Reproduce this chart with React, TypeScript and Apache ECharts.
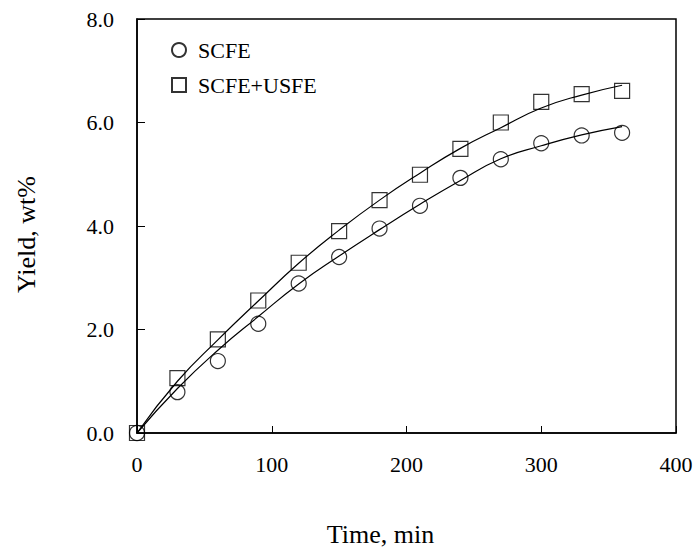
import React, { useEffect, useRef } from "react";
import * as echarts from "echarts";

const timeMin = [0, 30, 60, 90, 120, 150, 180, 210, 240, 270, 300, 330, 360];
const scfeYield = [0, 0.79, 1.39, 2.11, 2.89, 3.4, 3.95, 4.39, 4.93, 5.29, 5.6, 5.75, 5.8];
const usfeYield = [0, 1.06, 1.81, 2.56, 3.29, 3.9, 4.5, 4.99, 5.49, 6.0, 6.4, 6.55, 6.61];
const fitTime = [0, 30, 60, 90, 120, 150, 180, 210, 240, 270, 300, 330, 360];
const scfeFit = [0, 0.86, 1.6, 2.25, 2.88, 3.42, 3.93, 4.42, 4.88, 5.3, 5.55, 5.76, 5.92];
const usfeFit = [0, 1.0, 1.8, 2.55, 3.28, 3.92, 4.5, 5.02, 5.5, 5.9, 6.28, 6.53, 6.72];
const xTicks = [0, 100, 200, 300, 400];
const yTicks = [0, 2, 4, 6, 8];

const FONT = "Liberation Serif";

export default function App() {
  const ref = useRef<HTMLDivElement>(null);
  useEffect(() => {
    if (!ref.current) return;
    const chart = echarts.init(ref.current, undefined, { renderer: "svg" });
    const pair = (xs: number[], ys: number[]) => xs.map((x, i) => [x, ys[i]]);
    const markerStyle = {
      color: "rgba(0,0,0,0)",
      borderColor: "#000",
      borderWidth: 1.2,
    };
    chart.setOption({
      animation: false,
      backgroundColor: "#fff",
      textStyle: { fontFamily: FONT, color: "#000" },
      grid: {
        left: 137,
        right: 20,
        top: 19,
        bottom: 120,
        show: true,
        borderColor: "#000",
        borderWidth: 1.5,
        backgroundColor: "transparent",
      },
      legend: {
        orient: "vertical",
        left: 171,
        top: 39,
        padding: 0,
        itemGap: 13,
        itemWidth: 14,
        itemHeight: 14,
        data: [
          { name: "SCFE", icon: "circle" },
          { name: "SCFE+USFE", icon: "rect" },
        ],
        textStyle: {
          fontFamily: FONT,
          fontSize: 22,
          color: "#000",
          padding: [0, 0, 0, 7],
        },
      },
      xAxis: {
        type: "value",
        min: xTicks[0],
        max: xTicks[xTicks.length - 1],
        interval: 100,
        name: "Time, min",
        nameLocation: "middle",
        nameGap: 88,
        nameTextStyle: { fontFamily: FONT, fontSize: 26, color: "#000", padding: [0, 52, 0, 0] },
        axisLine: { show: true, lineStyle: { color: "#000", width: 1.5 } },
        axisTick: { show: true, inside: true, length: 7, lineStyle: { color: "#000", width: 1 } },
        axisLabel: { fontFamily: FONT, fontSize: 22, color: "#000", margin: 20 },
        splitLine: { show: false },
      },
      yAxis: {
        type: "value",
        min: yTicks[0],
        max: yTicks[yTicks.length - 1],
        interval: 2,
        name: "Yield, wt%",
        nameLocation: "middle",
        nameGap: 98,
        nameTextStyle: { fontFamily: FONT, fontSize: 26, color: "#000", padding: [0, 17, 0, 0] },
        axisLine: { show: true, lineStyle: { color: "#000", width: 1.5 } },
        axisTick: { show: true, inside: true, length: 8, lineStyle: { color: "#000", width: 1 } },
        axisLabel: {
          fontFamily: FONT,
          fontSize: 22,
          color: "#000",
          margin: 23,
          formatter: (v: number) => v.toFixed(1),
        },
        splitLine: { show: false },
      },
      series: [
        {
          name: "SCFE fit",
          type: "line",
          data: pair(fitTime, scfeFit),
          smooth: true,
          showSymbol: false,
          lineStyle: { color: "#000", width: 1.2 },
          z: 2,
        },
        {
          name: "SCFE+USFE fit",
          type: "line",
          data: pair(fitTime, usfeFit),
          smooth: true,
          showSymbol: false,
          lineStyle: { color: "#000", width: 1.2 },
          z: 2,
        },
        {
          name: "SCFE",
          type: "scatter",
          symbol: "circle",
          symbolSize: 15,
          clip: false,
          data: pair(timeMin, scfeYield),
          itemStyle: markerStyle,
          z: 3,
        },
        {
          name: "SCFE+USFE",
          type: "scatter",
          symbol: "rect",
          symbolSize: 15,
          clip: false,
          data: pair(timeMin, usfeYield),
          itemStyle: markerStyle,
          z: 3,
        },
      ],
    });
    return () => chart.dispose();
  }, []);
  return <div ref={ref} style={{ width: 696, height: 553, position: "absolute", left: 0, top: 0 }} />;
}
